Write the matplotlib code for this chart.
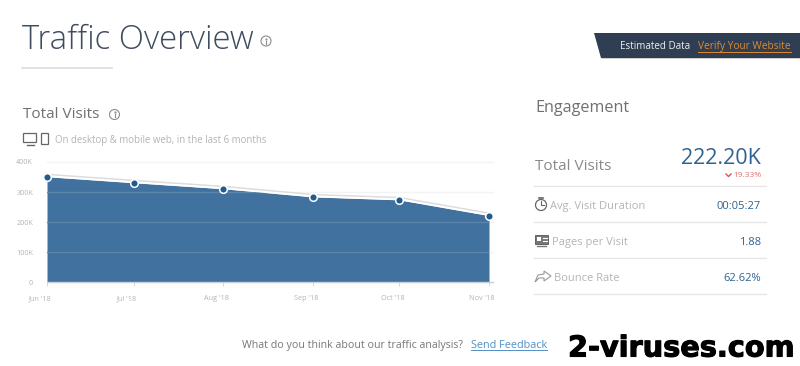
import matplotlib
matplotlib.use("Agg")
import matplotlib.pyplot as plt
import matplotlib.dates as mdates
import matplotlib.patches as mp
import matplotlib.patheffects as pe
from matplotlib.transforms import ScaledTranslation
import datetime as dt

plt.rcParams['font.family'] = ['Open Sans', 'DejaVu Sans']

# chart data
months = [dt.date(2018, 6, 1), dt.date(2018, 7, 1), dt.date(2018, 8, 1),
          dt.date(2018, 9, 1), dt.date(2018, 10, 1), dt.date(2018, 11, 1)]
visits = [351000, 331000, 311000, 284000, 274000, 222000]
month_labels = ["Jun '18", "Jul '18", "Aug '18", "Sep '18", "Oct '18", "Nov '18"]
y_ticks = [0, 100000, 200000, 300000, 400000]
y_labels = ["0", "100K", "200K", "300K", "400K"]

# engagement table
metrics = ["Avg. Visit Duration", "Pages per Visit", "Bounce Rate"]
metric_values = ["00:05:27", "1.88", "62.62%"]

W, H = 800, 366
BLUE = "#41729f"
DARK = "#2f6292"
GREY = "#8a8a8a"
LIGHT = "#b4b4b4"
RULE = "#e6e6e6"

fig = plt.figure(figsize=(W / 100, H / 100), dpi=100, facecolor="white")

# overlay in pixel coords for the page furniture
page = fig.add_axes([0, 0, 1, 1])
page.set_xlim(0, W)
page.set_ylim(H, 0)
page.axis("off")


def info_icon(x, y, r, col="#8c8c8c"):
    page.add_patch(mp.Circle((x, y), r, fill=False, ec=col, lw=0.8))
    page.plot([x, x], [y - r * 0.1, y + r * 0.55], color=col, lw=0.8)
    page.plot([x], [y - r * 0.45], ".", color=col, ms=1.2)


page.text(22, 40, "Traffic Overview", fontsize=23.7, color="#3f4c5f",
          fontweight="light", va="center", ha="left")
info_icon(266, 41, 5)
page.plot([22, 112], [67.5, 67.5], color="#dcdcdc", lw=1.2)

page.text(23, 115, "Total Visits", fontsize=11, color="#707070", va="center")
info_icon(114.5, 114.5, 5)

# device icons
page.add_patch(mp.FancyBboxPatch((24, 134), 12, 8, boxstyle="round,pad=0.5",
                                 fill=False, ec="#666666", lw=0.9))
page.plot([27, 34], [144.5, 144.5], color="#666666", lw=1)
page.add_patch(mp.FancyBboxPatch((42, 134), 6, 10, boxstyle="round,pad=0.5",
                                 fill=False, ec="#666666", lw=0.9))
page.text(55, 140, "On desktop & mobile web, in the last 6 months",
          fontsize=6.9, color=LIGHT, va="center")

# estimated data banner
page.add_patch(mp.Polygon([[595, 34], [800, 34], [800, 59], [602, 59]],
                          closed=True, fc="#d0d0d0", ec="none"))
page.add_patch(mp.Polygon([[594, 33], [800, 33], [800, 58], [601, 58]],
                          closed=True, fc="#2f3e52", ec="none"))
page.text(620, 46.5, "Estimated Data", fontsize=7.1, color="#eeeeee", va="center")
page.text(698, 46.5, "Verify Your Website", fontsize=7.3, color="#e08a2e", va="center")
page.plot([698, 791], [51.5, 51.5], color="#e08a2e", lw=0.7)

# engagement panel
page.text(535, 108, "Engagement", fontsize=11.6, color="#707070", va="center")
page.text(535, 167, "Total Visits", fontsize=11, color=GREY, va="center")
page.text(761, 159, "222.20K", fontsize=15.5, color=DARK, va="center", ha="right")
page.text(761, 175.5, "19.33%", fontsize=6, color="#e07070", va="center", ha="right")
page.plot([726, 728.5, 731], [174, 176.5, 174], color="#d9534f", lw=1)

rows_y = [206.5, 242.5, 278.5]
text_x = [550, 552, 554]
for name, val, yy, xx in zip(metrics, metric_values, rows_y, text_x):
    page.text(xx, yy, name, fontsize=8, color=LIGHT, va="center")
    page.text(761, yy, val, fontsize=8, color=DARK, va="center", ha="right")
for yy in [185.5, 222, 258, 294]:
    page.plot([534, 766], [yy, yy], color=RULE, lw=1)

# row icons
page.add_patch(mp.Circle((541, 205), 5.5, fill=False, ec="#666666", lw=0.9))
page.plot([541, 541, 544], [201, 205, 205], color="#666666", lw=0.8)
page.plot([539, 543], [198, 198], color="#666666", lw=1.2)
page.add_patch(mp.Rectangle((535, 235), 13, 9, fc="#777777", ec="#555555", lw=0.6))
page.add_patch(mp.Rectangle((537, 237), 4, 4, fc="white", ec="none"))
page.plot([543, 547], [238, 238], color="white", lw=0.8)
page.plot([543, 547], [240.5, 240.5], color="white", lw=0.8)
page.plot([537, 546], [246, 246], color="#777777", lw=1)
page.add_patch(mp.Polygon([[535, 282], [538, 275], [544, 274], [544, 271], [551, 276],
                           [544, 281], [544, 278], [539, 278]],
                          closed=True, fill=False, ec="#999999", lw=0.8))

page.text(242, 345.5, "What do you think about our traffic analysis?", fontsize=7.7,
          color="#777777", va="center")
page.text(471, 345.5, "Send Feedback", fontsize=7.8, color="#4f8fc6", va="center")
page.plot([471, 547], [350, 350], color="#4f8fc6", lw=0.7)

page.text(794, 348.5, "2-viruses.com", fontsize=20.7, color="black", family="DejaVu Sans",
          fontweight="bold", va="center", ha="right",
          path_effects=[pe.withStroke(linewidth=0.8, foreground="black")])

# the area chart, axes span 47..493 px across, 162..282.3 px down
ax = fig.add_axes([47 / W, 1 - 282.3 / H, (493 - 47) / W, (282.3 - 162) / H])
ax.patch.set_alpha(0)
days = mdates.date2num(months)
per_day = (489 - 47) / (days[-1] - days[0])
ax.set_xlim(days[0], days[0] + (493 - 47) / per_day)
ax.set_ylim(0, 400000)

area = ax.fill_between(months, visits, 0, color=BLUE, lw=0, zorder=2)
for t in y_ticks[1:]:
    ax.axhline(t, color="#f3f3f3", lw=1, zorder=1, clip_on=False)
    # paler line over the fill only
    ln = ax.axhline(t, color="#5d86ad", lw=0.9, zorder=3)
    ln.set_clip_path(area.get_paths()[0], ax.transData)
ax.plot(months, [v + 7000 for v in visits], color="#dcdcdc", lw=1.4, zorder=3, clip_on=False)
ax.plot(months, [v + 2000 for v in visits], color="white", lw=1.4, zorder=4, clip_on=False)
ax.plot(months, visits, "o", color="#1f5c8f", ms=5.5, mec="white", mew=1.1,
        zorder=5, clip_on=False)

for s in ["top", "right", "left"]:
    ax.spines[s].set_visible(False)
ax.spines["bottom"].set_color("#c5d0dc")
ax.spines["bottom"].set_linewidth(1)

ax.set_yticks(y_ticks)
ax.set_yticklabels(y_labels)
ax.set_xticks(months)
ax.set_xticklabels(month_labels)
ax.tick_params(axis="y", length=0, pad=10, labelsize=5.2, labelcolor=LIGHT)
ax.tick_params(axis="x", length=3, width=0.7, color="#d5d5d5", pad=6, labelsize=5.2, labelcolor=LIGHT)
shift = ScaledTranslation(-7 / 100, 0, fig.dpi_scale_trans)
for lab in ax.get_xticklabels():
    lab.set_transform(lab.get_transform() + shift)

fig.savefig("out.png", dpi=100)
